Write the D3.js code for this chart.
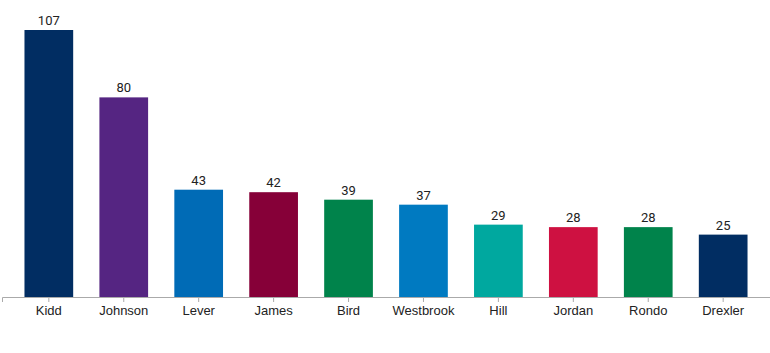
<!DOCTYPE html>
<html>
<head>
<meta charset="utf-8">
<script src="https://cdn.jsdelivr.net/npm/d3@7"></script>
<style>
  body { margin: 0; background: #fff; }
  svg { display: block; font-family: Roboto, sans-serif; }
  .axis path, .axis line { stroke: #aaa; }
  .axis text { font-size: 13px; fill: #222; }
</style>
</head>
<body>
<div id="graph"></div>
<script>
var names = ['Kidd', 'Johnson', 'Lever', 'James', 'Bird', 'Westbrook', 'Hill', 'Jordan', 'Rondo', 'Drexler']
var values = [107, 80, 43, 42, 39, 37, 29, 28, 28, 25]
var colors = ['#012d62', '#552582', '#006bb6', '#860038', '#00834b', '#007ac1', '#00a89f', '#ce1141', '#00834b', '#012d62']

var width = 770, height = 353
var svg = d3.select('#graph').append('svg').attr('width', width).attr('height', height)

var x = d3.scaleBand().domain(names).range([2, 770]).paddingInner(0.35).paddingOuter(0.3)
var y = d3.scaleLinear().domain([0, 107]).range([297, 30])

var axis = d3.axisBottom(x).tickSizeOuter(6).tickSize(5).tickPadding(4)
svg.append('g').attr('class', 'axis')
  .attr('transform', 'translate(0,' + y(0) + ')')
  .call(axis)

var data = names.map((d, i) => ({name: d, val: values[i], color: colors[i]}))

svg.selectAll('rect.bar').data(data).join('rect')
  .attr('class', 'bar')
  .attr('x', d => x(d.name))
  .attr('width', x.bandwidth())
  .attr('y', d => y(d.val))
  .attr('height', d => y(0) - y(d.val))
  .attr('fill', d => d.color)

svg.selectAll('text.val').data(data).join('text')
  .attr('class', 'val')
  .attr('x', d => x(d.name) + x.bandwidth() / 2)
  .attr('y', d => y(d.val) - 5)
  .attr('text-anchor', 'middle')
  .attr('font-size', 13)
  .attr('fill', '#222')
  .text(d => d.val)

svg.select('.axis .domain').raise()
</script>
</body>
</html>
